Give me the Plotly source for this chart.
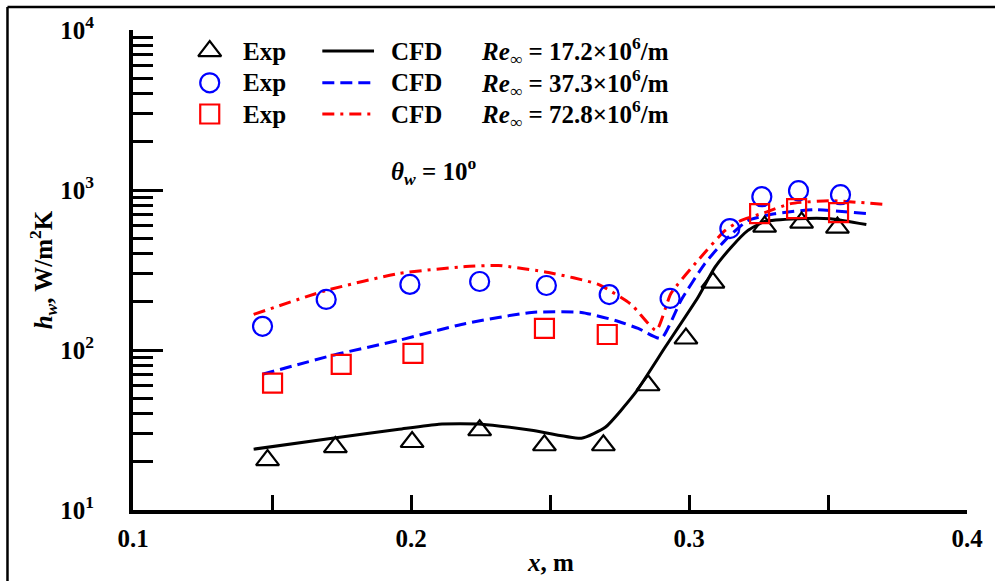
import plotly.graph_objects as go

# ---------------- data ----------------
# Experimental points
exp_x_172 = [0.1484, 0.1728, 0.2004, 0.2247, 0.2480, 0.2692, 0.2853, 0.2989, 0.3086, 0.3272, 0.3405, 0.3534]
exp_h_172 = [20.5, 24.7, 26.6, 31.5, 25.4, 25.4, 60.2, 118, 264, 590, 625, 582]

exp_x_373 = [0.1466, 0.1695, 0.1996, 0.2247, 0.2487, 0.2713, 0.2932, 0.3147, 0.3262, 0.3394, 0.3545]
exp_h_373 = [140.5, 207, 257, 268, 253, 222, 210, 574, 908, 990, 935]

exp_x_728 = [0.1502, 0.1749, 0.2007, 0.2480, 0.2706, 0.3254, 0.3387, 0.3538]
exp_h_728 = [62, 81.4, 95.3, 136.5, 125, 711, 765, 722]

# CFD curves
cfd_x_172 = [0.1434, 0.1717, 0.1957, 0.2100, 0.2254, 0.2434, 0.2613, 0.2699, 0.2806, 0.2914,
             0.3032, 0.3093, 0.3151, 0.3211, 0.3272, 0.3391, 0.3509, 0.3638]
cfd_h_172 = [24.0, 28.1, 32.0, 34.4, 34.4, 31.5, 28.1, 32.9, 53.7, 104,
             213, 328, 437, 557, 635, 662, 662, 608]

cfd_x_373 = [0.1466, 0.1717, 0.1957, 0.2197, 0.2434, 0.2613, 0.2735, 0.2817, 0.2900, 0.2971,
             0.3057, 0.3129, 0.3211, 0.3308, 0.3452, 0.3642]
cfd_h_373 = [70.5, 92.6, 115, 146.6, 171.8, 171.8, 153, 136.5, 118, 204,
             347, 483, 644, 711, 754, 711]

cfd_x_728 = [0.1434, 0.1695, 0.1957, 0.2197, 0.2315, 0.2495, 0.2674, 0.2792, 0.2882, 0.2935,
             0.3032, 0.3129, 0.3186, 0.3272, 0.3366, 0.3509, 0.3706]
cfd_h_728 = [166.9, 235.6, 300.9, 332.5, 337.4, 305, 257, 192.7, 132.6, 225.6,
             362.5, 557, 644, 722, 822, 858, 811]

re_labels = ["17.2", "37.3", "72.8"]
x_tick_vals = [0.1, 0.2, 0.3, 0.4]
x_tick_text = ["0.1", "0.2", "0.3", "0.4"]
x_minor_vals = [0.15, 0.25, 0.35]
y_tick_vals = [10, 100, 1000, 10000]
y_tick_text = ["10<sup>1</sup>", "10<sup>2</sup>", "10<sup>3</sup>", "10<sup>4</sup>"]
y_minor_vals = [m * d for d in (10, 100, 1000) for m in range(2, 10)]

# ---------------- styles ----------------
FONT = "Liberation Serif"
BLACK, BLUE, RED = "#000000", "#0000FF", "#FF0000"
FS = 25

series = [
    dict(ex=exp_x_172, eh=exp_h_172, cx=cfd_x_172, ch=cfd_h_172, color=BLACK,
         symbol="triangle-up-open", msize=20, dash="solid"),
    dict(ex=exp_x_373, eh=exp_h_373, cx=cfd_x_373, ch=cfd_h_373, color=BLUE,
         symbol="circle-open", msize=19, dash="12px,6px"),
    dict(ex=exp_x_728, eh=exp_h_728, cx=cfd_x_728, ch=cfd_h_728, color=RED,
         symbol="square-open", msize=19, dash="12px,6px,3px,6px"),
]

fig = go.Figure()

for s in series:
    fig.add_trace(go.Scatter(x=s["cx"], y=s["ch"], mode="lines",
                             line=dict(color=s["color"], width=3, dash=s["dash"],
                                       shape="spline", smoothing=0.5),
                             showlegend=False, hoverinfo="skip"))
for s in series:
    fig.add_trace(go.Scatter(x=s["ex"], y=s["eh"], mode="markers",
                             marker=dict(symbol=s["symbol"], size=s["msize"], color=s["color"],
                                         line=dict(color=s["color"], width=2.2)),
                             showlegend=False))

# ---------------- custom legend (paper-like overlay axis) ----------------
leg_rows_y = [0.956, 0.890, 0.825]
leg_sym_x = 0.092
leg_line_x = [0.227, 0.289]
for s, yy, re in zip(series, leg_rows_y, re_labels):
    fig.add_trace(go.Scatter(x=[leg_sym_x], y=[yy], xaxis="x2", yaxis="y2", mode="markers",
                             marker=dict(symbol=s["symbol"], size=s["msize"], color=s["color"],
                                         line=dict(color=s["color"], width=2.2)),
                             showlegend=False, hoverinfo="skip", cliponaxis=False))
    fig.add_trace(go.Scatter(x=leg_line_x, y=[yy, yy], xaxis="x2", yaxis="y2", mode="lines",
                             line=dict(color=s["color"], width=3, dash=s["dash"]),
                             showlegend=False, hoverinfo="skip", cliponaxis=False))
    fig.add_annotation(x=0.130, y=yy, xref="paper", yref="paper", xanchor="left", yanchor="middle",
                       text="<b>Exp</b>", showarrow=False,
                       font=dict(family=FONT, size=FS, color=BLACK))
    fig.add_annotation(x=0.307, y=yy, xref="paper", yref="paper", xanchor="left", yanchor="middle",
                       text="<b>CFD</b>", showarrow=False,
                       font=dict(family=FONT, size=FS, color=BLACK))
    fig.add_annotation(x=0.4146, y=yy, xref="paper", yref="paper", xanchor="left", yanchor="middle",
                       text="<b><i>Re</i><sub><i>∞</i></sub> = " + re + "×10<sup>6</sup>/m</b>",
                       showarrow=False, font=dict(family=FONT, size=FS, color=BLACK))

fig.add_annotation(x=0.307, y=0.707, xref="paper", yref="paper", xanchor="left", yanchor="middle",
                   text="<b><i>θ</i><sub><i>w</i></sub> = 10<sup>o</sup></b>", showarrow=False,
                   font=dict(family=FONT, size=FS, color=BLACK))

# axis titles
fig.add_annotation(x=0.50, y=-0.110, xref="paper", yref="paper", xanchor="center", yanchor="middle",
                   text="<b><i>x</i>, m</b>", showarrow=False,
                   font=dict(family=FONT, size=FS, color=BLACK))
fig.add_annotation(x=-0.1075, y=0.50, xref="paper", yref="paper", xanchor="center", yanchor="middle",
                   text="<b><i>h</i><sub><i>w</i></sub>, W/m<sup>2</sup>K</b>", textangle=-90,
                   showarrow=False, font=dict(family=FONT, size=FS, color=BLACK))

# outer frame (top and left edges visible)
fig.add_shape(type="line", xref="paper", yref="paper", x0=-0.1505, x1=1.05, y0=1.0478, y1=1.0478,
              line=dict(color=BLACK, width=2.5))
fig.add_shape(type="line", xref="paper", yref="paper", x0=-0.1505, x1=-0.1505, y0=1.0478, y1=-0.2,
              line=dict(color=BLACK, width=2.5))

fig.update_layout(
    width=995, height=581,
    margin=dict(l=133, r=25, t=29, b=71),
    paper_bgcolor="white", plot_bgcolor="white",
    font=dict(family=FONT, size=FS, color=BLACK),
    showlegend=False,
    xaxis=dict(range=[0.1, 0.4], showgrid=False, zeroline=False,
               showline=True, linewidth=4, linecolor=BLACK,
               tickmode="array", tickvals=x_tick_vals,
               ticktext=["<b>" + t + "</b>" for t in x_tick_text],
               ticks="inside", ticklen=15, tickwidth=3, tickcolor=BLACK,
               ticklabelstandoff=3,
               tickfont=dict(family=FONT, size=FS, color=BLACK),
               minor=dict(tickmode="array", tickvals=x_minor_vals, ticks="inside",
                          ticklen=15, tickwidth=3, tickcolor=BLACK, showgrid=False)),
    yaxis=dict(type="log", range=[1, 4], showgrid=False, zeroline=False,
               showline=True, linewidth=4, linecolor=BLACK,
               tickmode="array", tickvals=y_tick_vals,
               ticktext=["<b>" + t + "</b>" for t in y_tick_text],
               ticks="inside", ticklen=30, tickwidth=3, tickcolor=BLACK,
               ticklabelstandoff=30,
               tickfont=dict(family=FONT, size=FS, color=BLACK),
               minor=dict(tickmode="array", tickvals=y_minor_vals, ticks="inside",
                          ticklen=20, tickwidth=3, tickcolor=BLACK, showgrid=False)),
    xaxis2=dict(overlaying="x", range=[0, 1], visible=False),
    yaxis2=dict(overlaying="y", range=[0, 1], visible=False),
)

fig.write_html("out.html")
